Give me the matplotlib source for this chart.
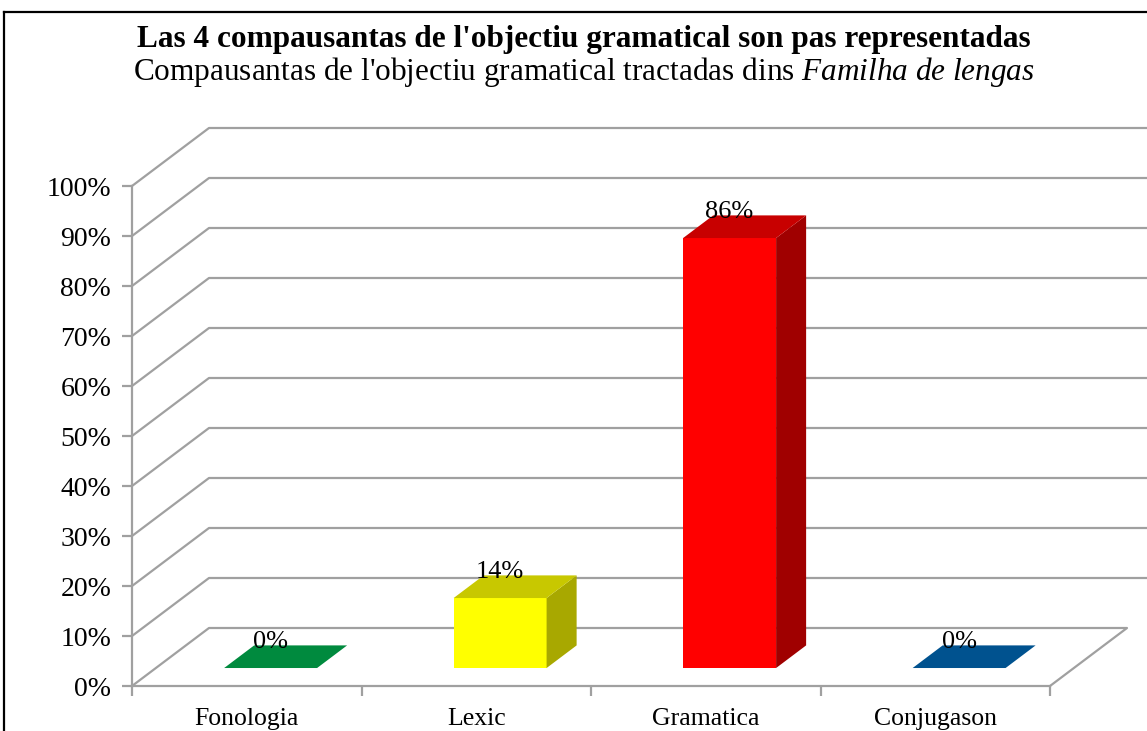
import matplotlib.pyplot as plt
from matplotlib.patches import Polygon, Rectangle
from matplotlib.lines import Line2D

categories = ["Fonologia", "Lexic", "Gramatica", "Conjugason"]
values = [0, 14, 86, 0]
bar_labels = ["0%", "14%", "86%", "0%"]
front_colors = ["#00a04a", "#ffff00", "#ff0000", "#0060a8"]
top_colors = ["#008a3e", "#c8c800", "#c80000", "#00528f"]
side_colors = ["#006a30", "#a8a800", "#a00000", "#003f6e"]
yticks = list(range(0, 101, 10))

title = "Las 4 compausantas de l'objectiu gramatical son pas representadas"
subtitle = r"Compausantas de l'objectiu gramatical tractadas dins $\mathit{Familha\ de\ lengas}$"

plt.rcParams['font.family'] = 'Liberation Serif'
plt.rcParams['mathtext.fontset'] = 'custom'
plt.rcParams['mathtext.rm'] = 'Liberation Serif'
plt.rcParams['mathtext.it'] = 'Liberation Serif:italic'

W, H = 1147, 731
fig = plt.figure(figsize=(W / 100, H / 100), dpi=100)
ax = fig.add_axes([132 / W, 45 / H, 918 / W, 500 / H])
ax.set_xlim(-0.5, 3.5)
ax.set_ylim(0, 100)

grid_col = "#a0a0a0"
# depth of the 3d box, in data units
DX, DY = 0.3355, 11.6
x_edge = 3.93

for v in yticks:
    if v == 0:
        ax.plot([-0.5, -0.5 + DX, 3.5 + DX, 3.5], [0, DY, DY, 0],
                color=grid_col, lw=1.6, clip_on=False, zorder=1)
    else:
        ax.plot([-0.5, -0.5 + DX, x_edge], [v, v + DY, v + DY],
                color=grid_col, lw=1.6, clip_on=False, zorder=1)

# bars
w = 0.405
d0, dd = 0.31, 0.39
for i, v in enumerate(values):
    x0 = i - w / 2 + d0 * DX
    y0 = d0 * DY
    ox, oy = dd * DX, dd * DY
    if v > 0:
        ax.add_patch(Rectangle((x0, y0), w, v, facecolor=front_colors[i],
                               edgecolor='none', zorder=3, clip_on=False))
        ax.add_patch(Polygon([(x0 + w, y0), (x0 + w, y0 + v),
                              (x0 + w + ox, y0 + v + oy), (x0 + w + ox, y0 + oy)],
                             closed=True, facecolor=side_colors[i],
                             edgecolor='none', zorder=3, clip_on=False))
    ax.add_patch(Polygon([(x0, y0 + v), (x0 + w, y0 + v),
                          (x0 + w + ox, y0 + v + oy), (x0 + ox, y0 + v + oy)],
                         closed=True, facecolor=top_colors[i],
                         edgecolor='none', zorder=3, clip_on=False))
    ax.text(i + d0 * DX, y0 + v + oy + 0.6, bar_labels[i], ha='center',
            va='center', fontsize=19, zorder=4)

# axes
for s in ['top', 'right']:
    ax.spines[s].set_visible(False)
for s in ['left', 'bottom']:
    ax.spines[s].set_color(grid_col)
    ax.spines[s].set_linewidth(1.6)
ax.set_facecolor('none')
ax.set_yticks(yticks)
ax.set_yticklabels([f"{v}%" for v in yticks])
ax.tick_params(axis='y', length=7, width=1.6, color=grid_col, labelsize=20, pad=8)
ax.set_xticks([-0.5, 0.5, 1.5, 2.5, 3.5])
ax.set_xticklabels([])
ax.set_xticks(range(len(categories)), minor=True)
ax.set_xticklabels(categories, minor=True, fontsize=18.5)
ax.tick_params(axis='x', which='major', length=7, width=1.6, color=grid_col)
ax.tick_params(axis='x', which='minor', length=0, pad=16)

fig.text(0.509, 1 - 39 / H, title, ha='center', va='center',
         fontsize=22.5, weight='bold')
fig.text(0.509, 1 - 72 / H, subtitle, ha='center', va='center', fontsize=22.5)

# chart frame
fig.add_artist(Line2D([4 / W, 1], [1 - 12 / H, 1 - 12 / H], color='black', lw=1.6))
fig.add_artist(Line2D([4 / W, 4 / W], [0, 1 - 12 / H], color='black', lw=1.6))

fig.savefig("out.png", dpi=100)
